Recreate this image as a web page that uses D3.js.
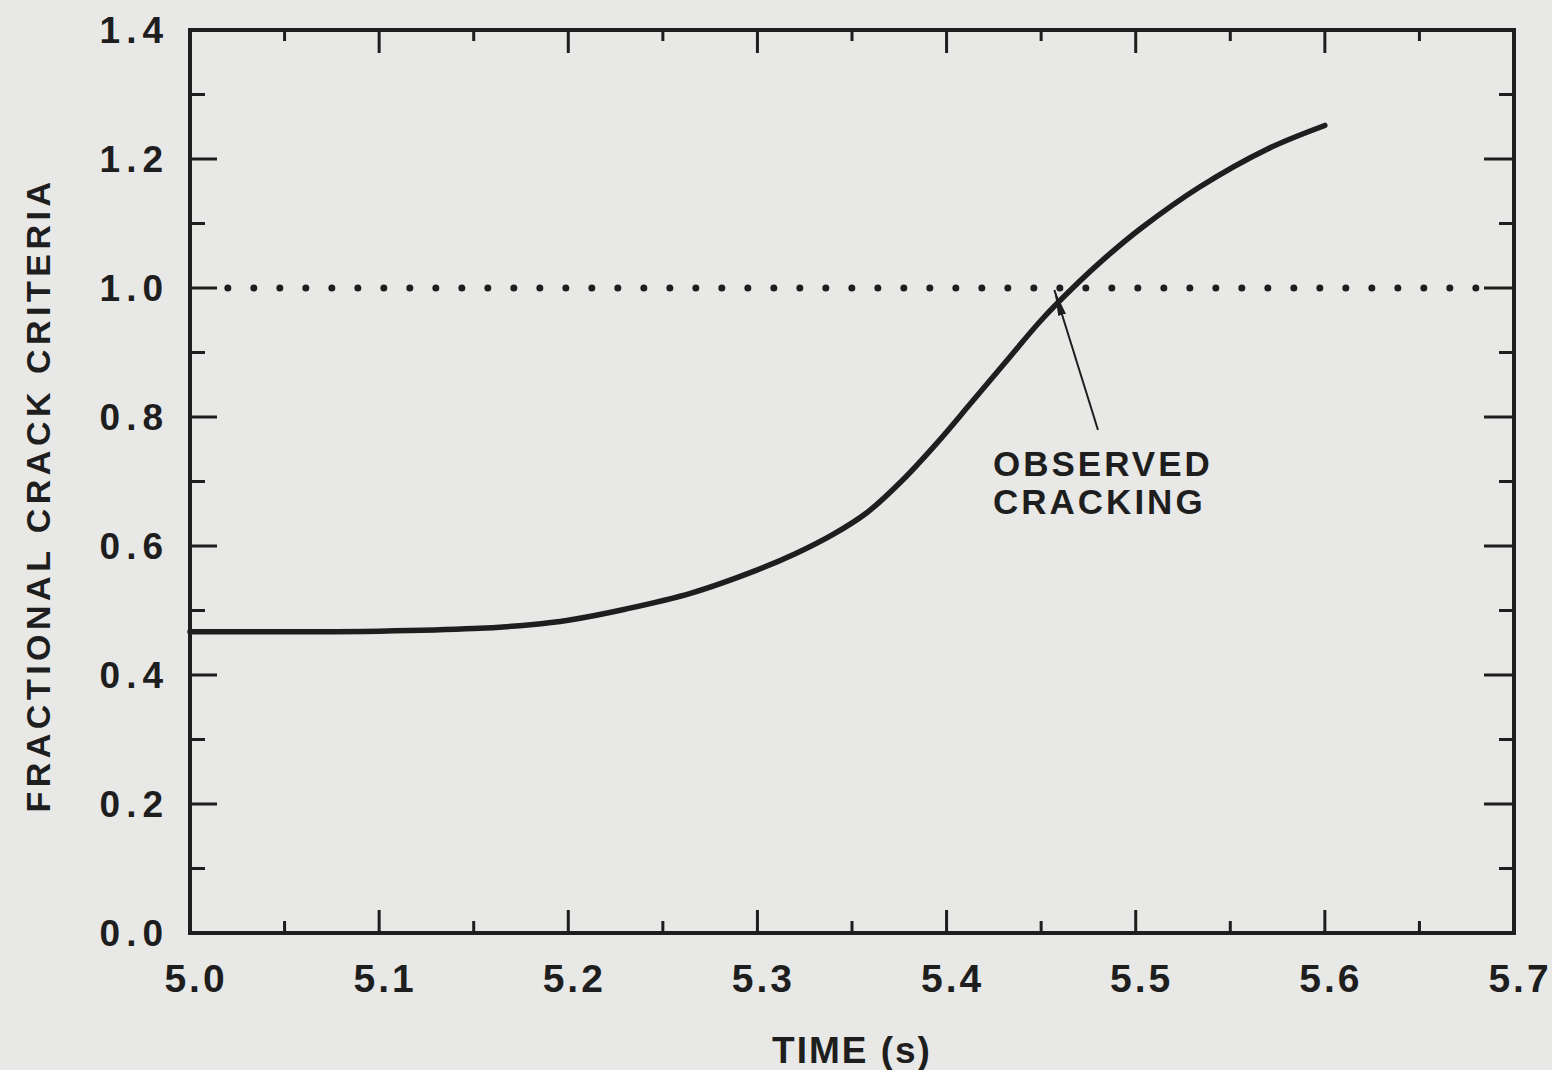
<!DOCTYPE html>
<html>
<head>
<meta charset="utf-8">
<script src="https://cdn.jsdelivr.net/npm/d3@7"></script>
<style>
  html, body { margin: 0; padding: 0; background: #e8e8e6; }
  svg { display: block; }
  text { font-family: "Liberation Sans", Arial, Helvetica, sans-serif; font-weight: bold; fill: #1e1e1e; }
</style>
</head>
<body>
<div id="chart"></div>
<script>
// data
const time = [5.00, 5.05, 5.10, 5.15, 5.18, 5.20, 5.23, 5.265, 5.30, 5.32, 5.34, 5.358, 5.376, 5.395, 5.413, 5.432, 5.45, 5.466, 5.484, 5.503, 5.534, 5.57, 5.60];
const crack = [0.467, 0.467, 0.468, 0.472, 0.478, 0.485, 0.502, 0.527, 0.563, 0.588, 0.618, 0.652, 0.700, 0.760, 0.822, 0.888, 0.950, 0.998, 1.047, 1.093, 1.157, 1.216, 1.252];

const xTicks = [5.0, 5.1, 5.2, 5.3, 5.4, 5.5, 5.6, 5.7];
const xMinor = [5.05, 5.15, 5.25, 5.35, 5.45, 5.55, 5.65];
const yTicks = [0.0, 0.2, 0.4, 0.6, 0.8, 1.0, 1.2, 1.4];
const yMinor = [0.1, 0.3, 0.5, 0.7, 0.9, 1.1, 1.3];

const criteriaLevel = 1.0;
const criteriaRange = [5.02, 5.68];
const observedTime = 5.457;
const note = ['OBSERVED', 'CRACKING'];

const width = 1552, height = 1070;
const x = d3.scaleLinear().domain([5.0, 5.7]).range([190, 1514]);
const y = d3.scaleLinear().domain([0, 1.4]).range([933, 30]);

const svg = d3.select('#chart').append('svg')
  .attr('width', width)
  .attr('height', height);

svg.append('rect').attr('width', width).attr('height', height).attr('fill', '#e8e8e6');

const ink = '#1e1e1e';

// ticks point inward on all four sides
const tickLine = (g, x1, y1, x2, y2, w) => g.append('line')
  .attr('x1', x1).attr('y1', y1).attr('x2', x2).attr('y2', y2)
  .attr('stroke', ink).attr('stroke-width', w);

const ticks = svg.append('g');
xTicks.forEach(v => {
  tickLine(ticks, x(v), y(0), x(v), y(0) - 23, 3);
  tickLine(ticks, x(v), y(1.4), x(v), y(1.4) + 23, 3);
});
xMinor.forEach(v => {
  tickLine(ticks, x(v), y(0), x(v), y(0) - 12, 3);
  tickLine(ticks, x(v), y(1.4), x(v), y(1.4) + 11, 3);
});
yTicks.forEach(v => {
  tickLine(ticks, x(5.0), y(v), x(5.0) + 27, y(v), 3);
  tickLine(ticks, x(5.7), y(v), x(5.7) - 30, y(v), 3);
});
yMinor.forEach(v => {
  tickLine(ticks, x(5.0), y(v), x(5.0) + 15, y(v), 3);
  tickLine(ticks, x(5.7), y(v), x(5.7) - 15, y(v), 3);
});

// frame
svg.append('rect')
  .attr('x', x(5.0)).attr('y', y(1.4))
  .attr('width', x(5.7) - x(5.0)).attr('height', y(0) - y(1.4))
  .attr('fill', 'none').attr('stroke', ink).attr('stroke-width', 4);

// tick labels
svg.append('g').selectAll('text').data(xTicks).join('text')
  .attr('x', d => x(d) + 6)
  .attr('y', 992)
  .attr('text-anchor', 'middle')
  .attr('font-size', 39)
  .attr('letter-spacing', 3)
  .text(d => d.toFixed(1));

svg.append('g').selectAll('text').data(yTicks).join('text')
  .attr('x', 169)
  .attr('y', d => y(d) + 13)
  .attr('text-anchor', 'end')
  .attr('font-size', 37)
  .attr('letter-spacing', 6)
  .text(d => d.toFixed(1));

// axis titles
svg.append('text')
  .attr('x', 852).attr('y', 1063)
  .attr('text-anchor', 'middle')
  .attr('font-size', 37)
  .attr('letter-spacing', 2)
  .text('TIME (s)');

svg.append('text')
  .attr('transform', 'translate(50,495) rotate(-90)')
  .attr('text-anchor', 'middle')
  .attr('font-size', 34)
  .attr('letter-spacing', 4.5)
  .text('FRACTIONAL CRACK CRITERIA');

// dotted criteria line
svg.append('line')
  .attr('x1', x(criteriaRange[0])).attr('x2', x(criteriaRange[1]))
  .attr('y1', y(criteriaLevel)).attr('y2', y(criteriaLevel))
  .attr('stroke', ink).attr('stroke-width', 7)
  .attr('stroke-linecap', 'round')
  .attr('stroke-dasharray', '0 26');

// curve
const line = d3.line()
  .x((d, i) => x(time[i]))
  .y(d => y(d))
  .curve(d3.curveCatmullRom.alpha(0.5));

svg.append('path')
  .datum(crack)
  .attr('d', line)
  .attr('fill', 'none')
  .attr('stroke', ink)
  .attr('stroke-width', 5.5)
  .attr('stroke-linecap', 'round');

// annotation arrow
svg.append('defs').append('marker')
  .attr('id', 'head')
  .attr('viewBox', '0 0 26 8')
  .attr('refX', 26).attr('refY', 4)
  .attr('markerWidth', 26).attr('markerHeight', 8)
  .attr('markerUnits', 'userSpaceOnUse')
  .attr('orient', 'auto')
  .append('path').attr('d', 'M0,0 L26,4 L0,8 Z').attr('fill', ink);

svg.append('line')
  .attr('x1', 1098).attr('y1', 430)
  .attr('x2', x(observedTime)).attr('y2', y(criteriaLevel) + 2)
  .attr('stroke', ink).attr('stroke-width', 2)
  .attr('marker-end', 'url(#head)');

svg.append('g').selectAll('text').data(note).join('text')
  .attr('x', 993)
  .attr('y', (d, i) => 476 + i * 38)
  .attr('font-size', 35)
  .attr('letter-spacing', 3)
  .text(d => d);
</script>
</body>
</html>
